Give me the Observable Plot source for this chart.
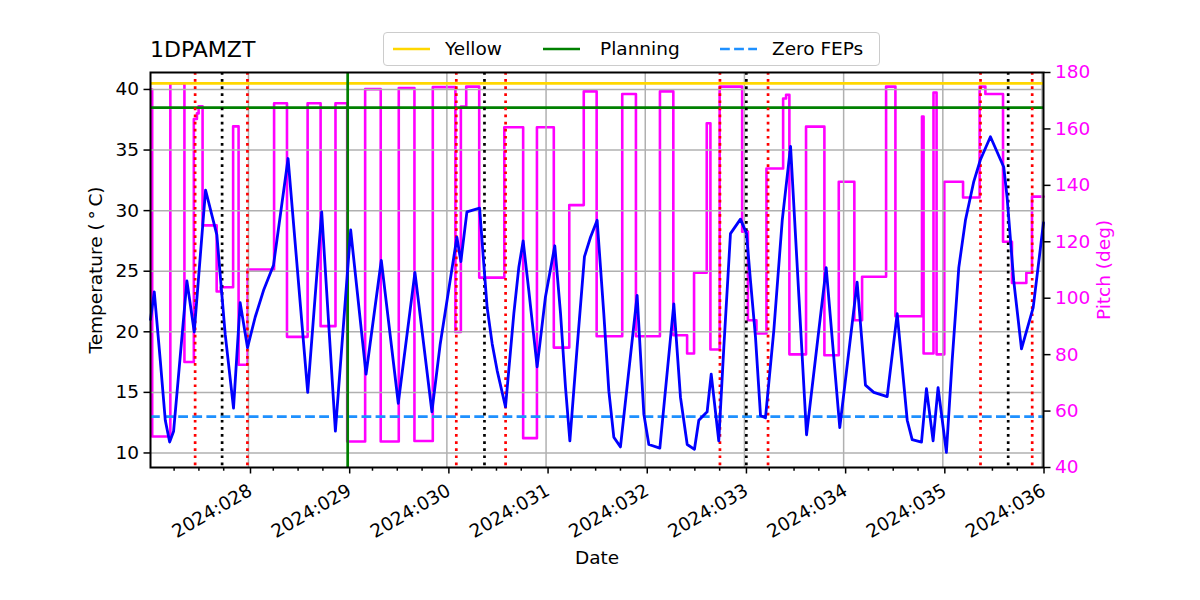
<!DOCTYPE html>
<html>
<head>
<meta charset="utf-8">
<script src="https://cdn.jsdelivr.net/npm/d3@7"></script>
<script src="https://cdn.jsdelivr.net/npm/@observablehq/plot@0.6"></script>
<style>
  body { margin: 0; background: #fff; font-family: "DejaVu Sans", sans-serif; }
  #wrap { width: 1200px; height: 600px; position: relative; overflow: hidden; }
  #head { position: relative; height: 68px; }
  #title { position: absolute; left: 150px; top: 39px; font-size: 22px; line-height: 22px; color: #000; }
  #legend { position: absolute; left: 383px; top: 32px; width: 495px; height: 32px; border: 1px solid #cccccc;
            border-radius: 4px; background: rgba(255,255,255,0.8); font-size: 18.5px; }
  .h { position: absolute; top: 11px; }
  .t { position: absolute; top: 6px; line-height: 20px; white-space: nowrap; }
</style>
</head>
<body>
<div id="wrap">
  <div id="head">
    <div id="title"></div>
    <div id="legend"></div>
  </div>
  <div id="chart"></div>
</div>
<script>
// ---------------- data ----------------
const titleText = "1DPAMZT";
const dayTicks = [28, 29, 30, 31, 32, 33, 34, 35, 36];
const tempTicks = [10, 15, 20, 25, 30, 35, 40];
const pitchTicks = [40, 60, 80, 100, 120, 140, 160, 180];

// limits (deg C)
const limitNames = ["Yellow", "Planning", "Zero FEPs"];
const limitValues = [40.5, 38.5, 13.0];

// event times (day of year 2024)
const redEvents = [27.462, 27.989, 30.095, 30.592, 32.753, 33.238, 35.380, 35.901];
const blackEvents = [27.734, 30.379, 33.019, 35.659];
const greenEvents = [29.0];

// 1DPAMZT temperature (deg C)
const tempTime = [
  27.012, 27.050, 27.111, 27.161, 27.205, 27.245, 27.379, 27.453, 27.567, 27.681,
  27.765, 27.849, 27.916, 27.990, 28.067, 28.151, 28.252, 28.399, 28.597, 28.738,
  28.876, 29.030, 29.185, 29.339, 29.510, 29.678, 29.849, 29.933, 30.101, 30.141,
  30.202, 30.330, 30.372, 30.406, 30.457, 30.507, 30.591, 30.675, 30.725, 30.769,
  30.826, 30.910, 30.994, 31.088, 31.146, 31.196, 31.240, 31.313, 31.387, 31.448,
  31.515, 31.582, 31.633, 31.683, 31.750, 31.918, 31.986, 32.036, 32.147, 32.288,
  32.355, 32.423, 32.496, 32.540, 32.624, 32.665, 32.741, 32.792, 32.859, 32.960,
  33.021, 33.061, 33.111, 33.162, 33.212, 33.296, 33.381, 33.465, 33.549, 33.626,
  33.824, 33.961, 34.136, 34.220, 34.304, 34.439, 34.540, 34.641, 34.691, 34.785,
  34.835, 34.902, 34.952, 35.036, 35.094, 35.161, 35.228, 35.312, 35.379, 35.480,
  35.614, 35.648, 35.715, 35.793, 35.911, 36.015];
const tempValue = [
  21.0, 23.3, 17.6, 12.7, 10.9, 11.8, 24.2, 20.0, 31.7, 28.0,
  19.8, 13.7, 22.4, 18.7, 21.2, 23.4, 25.5, 34.3, 15.0, 29.9,
  11.8, 28.4, 16.5, 25.9, 14.1, 24.9, 13.4, 19.0, 27.8, 25.8,
  29.9, 30.2, 25.6, 22.0, 19.0, 16.8, 13.8, 21.5, 25.3, 27.5,
  23.4, 17.1, 22.9, 27.1, 21.5, 15.4, 11.0, 18.7, 26.2, 27.8,
  29.2, 21.5, 15.1, 11.3, 10.5, 23.0, 13.2, 10.7, 10.4, 22.3,
  14.6, 10.7, 10.3, 12.7, 13.4, 16.5, 11.0, 18.7, 28.1, 29.3,
  28.1, 24.2, 19.6, 13.1, 12.9, 20.1, 29.2, 35.3, 22.9, 11.5,
  25.3, 12.1, 24.1, 15.6, 15.0, 14.65, 21.5, 12.7, 11.1, 10.9,
  15.3, 11.0, 15.4, 10.05, 17.6, 25.3, 29.2, 32.4, 34.2, 36.1,
  33.6, 31.1, 24.2, 18.6, 22.0, 29.0];

// pitch (deg), each value holds from its time until the next
const pitchTime = [27.012, 27.029, 27.212, 27.354, 27.449, 27.480, 27.497, 27.537, 27.679, 27.720,
  27.845, 27.900, 27.992, 28.258, 28.388, 28.596, 28.727, 28.877, 28.995, 29.176,
  29.333, 29.515, 29.673, 29.858, 30.086, 30.141, 30.195, 30.326, 30.579, 30.769,
  30.908, 31.078, 31.234, 31.380, 31.510, 31.768, 31.906, 32.148, 32.283, 32.422,
  32.492, 32.620, 32.657, 32.750, 32.977, 33.035, 33.121, 33.222, 33.390, 33.420,
  33.453, 33.621, 33.806, 33.951, 34.108, 34.186, 34.428, 34.522, 34.790, 34.806,
  34.906, 34.937, 35.015, 35.204, 35.371, 35.429, 35.607, 35.697, 35.842, 35.899,
  36.015];
const pitchValue = [174.0, 51.0, 176.2, 77.4, 163.5, 165.5, 168.0, 125.8, 102.4, 103.9,
  160.9, 76.4, 110.2, 169.1, 86.3, 169.1, 90.1, 169.1, 49.2, 174.1,
  49.2, 174.5, 49.4, 174.8, 88.0, 167.9, 175.0, 107.3, 160.6, 50.4,
  160.6, 82.5, 133.0, 173.3, 86.5, 172.4, 86.5, 173.3, 86.9, 80.4,
  109.0, 162.0, 81.8, 175.0, 123.6, 92.2, 87.5, 146.0, 170.8, 172.1,
  80.1, 160.8, 79.8, 141.3, 92.2, 107.6, 175.0, 93.6, 164.4, 80.4,
  172.9, 80.1, 141.3, 135.7, 175.0, 172.4, 120.0, 105.4, 109.0, 136.0,
  136.0];

// ---------------- scale helpers ----------------
const xDomain = [27.012, 36.015];
const T0 = 8.8, T1 = 41.4;          // left axis range (deg C)
const P0 = 40, P1 = 180;            // right axis range (deg)
const p2t = p => T0 + (p - P0) * (T1 - T0) / (P1 - P0);
const t2p = t => P0 + (t - T0) * (P1 - P0) / (T1 - T0);

const tempData = tempTime.map((t, i) => ({t, v: tempValue[i]}));
const pitchData = pitchTime.map((t, i) => ({t, v: p2t(pitchValue[i])}));
const minorTicks = d3.range(27.25, 36.01, 0.25).filter(d => Math.abs(d - Math.round(d)) > 0.01);

const colors = {Yellow: "#FFD700", Planning: "#008000", "Zero FEPs": "#1E90FF"};
const dashes = {Yellow: null, Planning: null, "Zero FEPs": "9.8,4.3"};

// ---------------- header (title + legend) ----------------
document.getElementById("title").textContent = titleText;
const leg = document.getElementById("legend");
const handleLeft = [9, 159, 336];   // within legend box
const textLeft = [61, 216, 388];
limitNames.forEach((name, i) => {
  const h = document.createElement("div");
  h.className = "h";
  h.style.left = handleLeft[i] + "px";
  const dash = dashes[name] ? `stroke-dasharray="${dashes[name]}"` : "";
  h.innerHTML = `<svg width="37" height="10" style="display:block"><line x1="0" x2="37" y1="5" y2="5" stroke="${colors[name]}" stroke-width="2.7" ${dash}/></svg>`;
  leg.appendChild(h);
  const t = document.createElement("div");
  t.className = "t";
  t.style.left = textLeft[i] + "px";
  t.textContent = name;
  leg.appendChild(t);
});

// ---------------- chart ----------------
const chart = Plot.plot({
  width: 1200,
  height: 532,
  marginLeft: 150,
  marginRight: 157,
  marginTop: 4,
  marginBottom: 133,
  style: {fontFamily: "DejaVu Sans, sans-serif", fontSize: "18.5px", background: "white", color: "black", overflow: "visible"},
  x: {domain: xDomain, type: "linear"},
  y: {domain: [T0, T1]},
  marks: [
    Plot.line(pitchData, {x: "t", y: "v", curve: "step-after", stroke: "#FF00FF", strokeWidth: 2.6}),
    Plot.gridX(dayTicks, {stroke: "#b0b0b0", strokeOpacity: 1, strokeWidth: 1.5}),
    Plot.gridY(tempTicks, {stroke: "#b0b0b0", strokeOpacity: 1, strokeWidth: 1.5}),
    Plot.ruleY([limitValues[0]], {stroke: colors.Yellow, strokeWidth: 2.7}),
    Plot.ruleY([limitValues[1]], {stroke: colors.Planning, strokeWidth: 2.7}),
    Plot.ruleY([limitValues[2]], {stroke: colors["Zero FEPs"], strokeWidth: 2.7, strokeDasharray: "9.8,4.3"}),
    Plot.ruleX(redEvents, {stroke: "red", strokeWidth: 2.7, strokeDasharray: "2.7,4.4"}),
    Plot.ruleX(blackEvents, {stroke: "black", strokeWidth: 2.7, strokeDasharray: "2.7,4.4"}),
    Plot.ruleX(greenEvents, {stroke: colors.Planning, strokeWidth: 2.7}),
    Plot.line(tempData, {x: "t", y: "v", stroke: "#0000FF", strokeWidth: 2.8, strokeLinejoin: "round"}),
    Plot.frame({stroke: "black", strokeWidth: 2}),
    Plot.axisX(minorTicks, {tickSize: 3.7, strokeWidth: 1.5, tickFormat: () => "", label: null}),
    Plot.axisX(dayTicks, {tickSize: 6.5, strokeWidth: 1.5, tickPadding: 15, tickRotate: -30, textAnchor: "end",
      lineAnchor: "middle", dx: 2, tickFormat: d => "2024:" + String(d).padStart(3, "0"), label: null}),
    Plot.axisY(tempTicks, {anchor: "left", tickSize: 6.5, strokeWidth: 1.5, tickPadding: 5, label: null}),
    Plot.axisY(pitchTicks.map(p2t), {anchor: "right", tickSize: 6.5, strokeWidth: 1.5, tickPadding: 5,
      tickFormat: t => String(Math.round(t2p(t))), label: null, stroke: "black", fill: "#FF00FF"}),
    Plot.text(["Temperature (\u2009\u00B0\u2009C)"], {frameAnchor: "left", dx: -54, rotate: -90, textAnchor: "middle",
      lineAnchor: "middle", text: d => d, fill: "black"}),
    Plot.text(["Pitch (deg)"], {frameAnchor: "right", dx: 61, rotate: -90, textAnchor: "middle",
      lineAnchor: "middle", text: d => d, fill: "#FF00FF"}),
    Plot.text(["Date"], {frameAnchor: "bottom", dy: 91, lineAnchor: "middle", text: d => d, fill: "black"})
  ]
});
document.getElementById("chart").appendChild(chart);
</script>
</body>
</html>
